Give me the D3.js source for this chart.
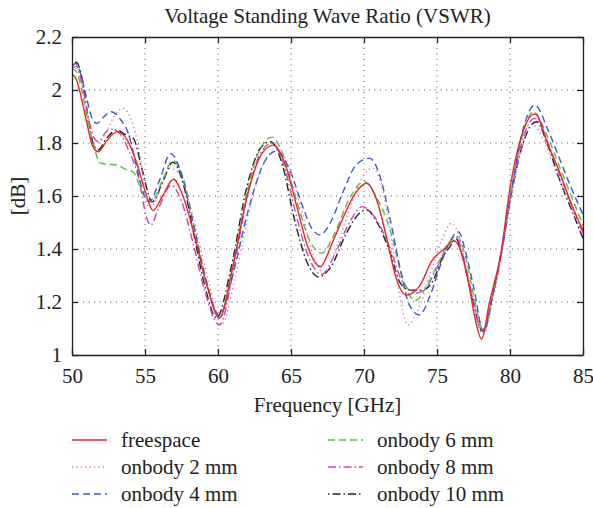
<!DOCTYPE html>
<html>
<head>
<meta charset="utf-8">
<script src="https://cdn.jsdelivr.net/npm/d3@7"></script>
<style>
  body { margin: 0; background: #fff; }
  svg { display: block; font-family: "Liberation Serif", "DejaVu Serif", serif; }
</style>
</head>
<body>
<div id="main-container"></div>
<script>
// Data: [frequency GHz, VSWR]
const FREESPACE = [[50, 2.06], [50.3, 2.04], [50.6, 1.98], [51.0, 1.88], [51.4, 1.79], [51.8, 1.767], [52.4, 1.81], [53.1, 1.843], [53.8, 1.81], [54.4, 1.73], [55.0, 1.62], [55.55, 1.545], [56.2, 1.60], [56.95, 1.663], [57.6, 1.60], [58.3, 1.47], [59.2, 1.27], [60.1, 1.14], [61.0, 1.33], [62.0, 1.60], [63.0, 1.76], [63.8, 1.792], [64.6, 1.72], [65.4, 1.56], [66.2, 1.40], [67.0, 1.333], [67.8, 1.42], [68.6, 1.522], [69.4, 1.61], [70.2, 1.648], [70.9, 1.58], [71.6, 1.43], [72.2, 1.29], [72.9, 1.226], [73.8, 1.26], [74.7, 1.36], [75.4, 1.396], [76.2, 1.43], [76.7, 1.38], [77.2, 1.26], [77.6, 1.14], [78.05, 1.06], [78.6, 1.20], [79.4, 1.39], [80.0, 1.63], [80.7, 1.81], [81.7, 1.91], [82.7, 1.78], [83.4, 1.69], [84.2, 1.57], [85, 1.47]];
const ONBODY_2 = [[50, 2.07], [50.3, 2.08], [50.7, 2.01], [51.1, 1.90], [51.5, 1.82], [51.8, 1.80], [52.4, 1.85], [53.0, 1.91], [53.5, 1.931], [54.1, 1.88], [54.66, 1.755], [55.1, 1.58], [55.3, 1.555], [56.0, 1.62], [56.7, 1.705], [57.4, 1.68], [58.3, 1.52], [59.3, 1.29], [60.25, 1.115], [61.2, 1.30], [62.2, 1.56], [63.2, 1.73], [64.0, 1.78], [64.8, 1.72], [65.7, 1.55], [66.5, 1.38], [67.3, 1.31], [68.2, 1.42], [69.2, 1.58], [70.0, 1.68], [70.6, 1.705], [71.2, 1.64], [71.8, 1.47], [72.4, 1.24], [73.0, 1.113], [73.7, 1.17], [74.5, 1.30], [75.3, 1.43], [76.0, 1.497], [76.5, 1.45], [77.1, 1.30], [77.6, 1.15], [78.2, 1.08], [78.8, 1.20], [79.4, 1.37], [80.1, 1.60], [80.8, 1.78], [81.5, 1.87], [82.4, 1.80], [83.3, 1.67], [84.2, 1.56], [85, 1.45]];
const ONBODY_4 = [[50, 2.09], [50.25, 2.10], [50.6, 2.06], [51.0, 1.97], [51.4, 1.89], [51.7, 1.874], [52.2, 1.90], [52.7, 1.918], [53.3, 1.89], [53.9, 1.83], [54.4, 1.717], [54.9, 1.61], [55.3, 1.578], [56.0, 1.66], [56.75, 1.76], [57.4, 1.70], [58.2, 1.52], [59.1, 1.30], [60.1, 1.15], [61.0, 1.30], [62.0, 1.53], [63.1, 1.72], [64.0, 1.77], [64.9, 1.70], [65.8, 1.56], [66.4, 1.48], [67.0, 1.453], [67.7, 1.50], [68.6, 1.62], [69.5, 1.72], [70.4, 1.742], [71.0, 1.69], [71.8, 1.51], [72.5, 1.32], [73.1, 1.19], [73.8, 1.151], [74.5, 1.22], [75.2, 1.333], [75.9, 1.43], [76.46, 1.465], [77.0, 1.38], [77.5, 1.258], [78.2, 1.088], [78.8, 1.22], [79.4, 1.39], [80.1, 1.62], [80.8, 1.83], [81.7, 1.943], [82.6, 1.85], [83.4, 1.74], [84.2, 1.63], [85, 1.53]];
const ONBODY_6 = [[50, 2.08], [50.3, 2.07], [50.7, 1.99], [51.1, 1.88], [51.46, 1.80], [51.9, 1.725], [52.4, 1.72], [53.06, 1.717], [53.7, 1.70], [54.2, 1.69], [54.9, 1.604], [55.45, 1.578], [56.2, 1.66], [56.9, 1.735], [57.6, 1.67], [58.4, 1.48], [59.2, 1.28], [60.1, 1.14], [61.0, 1.33], [62.0, 1.62], [63.0, 1.79], [63.7, 1.822], [64.5, 1.75], [65.4, 1.58], [66.3, 1.43], [67.1, 1.384], [68.0, 1.46], [69.0, 1.59], [70.0, 1.654], [70.8, 1.60], [71.8, 1.47], [72.6, 1.30], [73.5, 1.205], [74.3, 1.26], [75.2, 1.36], [76.0, 1.435], [76.4, 1.445], [77.0, 1.36], [77.6, 1.20], [78.2, 1.088], [78.8, 1.22], [79.4, 1.39], [80.1, 1.63], [80.8, 1.82], [81.6, 1.918], [82.6, 1.82], [83.4, 1.71], [84.2, 1.60], [85, 1.49]];
const ONBODY_8 = [[50, 2.08], [50.3, 2.09], [50.7, 2.02], [51.1, 1.90], [51.5, 1.82], [51.8, 1.805], [52.3, 1.84], [52.6, 1.852], [53.2, 1.84], [53.9, 1.77], [54.6, 1.66], [55.1, 1.52], [55.4, 1.49], [55.9, 1.55], [56.8, 1.64], [57.5, 1.58], [58.3, 1.42], [59.1, 1.24], [60.1, 1.113], [61.0, 1.30], [62.0, 1.60], [63.0, 1.77], [63.7, 1.80], [64.5, 1.72], [65.3, 1.54], [66.2, 1.37], [67.1, 1.305], [68.0, 1.38], [69.0, 1.50], [69.9, 1.56], [70.6, 1.53], [71.8, 1.40], [72.6, 1.28], [73.6, 1.233], [74.3, 1.26], [75.0, 1.33], [75.7, 1.41], [76.3, 1.45], [76.8, 1.37], [77.4, 1.23], [78.1, 1.09], [78.8, 1.22], [79.4, 1.38], [80.1, 1.61], [80.8, 1.80], [81.7, 1.893], [82.6, 1.80], [83.4, 1.68], [84.2, 1.57], [85, 1.46]];
const ONBODY_10 = [[50, 2.09], [50.3, 2.105], [50.7, 2.04], [51.1, 1.90], [51.5, 1.79], [51.8, 1.774], [52.4, 1.82], [53.06, 1.849], [53.7, 1.83], [54.2, 1.818], [54.8, 1.70], [55.5, 1.578], [56.2, 1.65], [56.9, 1.728], [57.6, 1.65], [58.4, 1.44], [59.1, 1.26], [59.9, 1.14], [60.9, 1.33], [62.0, 1.64], [62.9, 1.78], [63.6, 1.805], [64.4, 1.72], [65.2, 1.52], [66.1, 1.35], [66.9, 1.295], [67.7, 1.33], [68.8, 1.46], [69.6, 1.53], [70.2, 1.547], [70.9, 1.50], [71.8, 1.384], [72.5, 1.27], [73.15, 1.245], [74.0, 1.245], [74.75, 1.283], [75.4, 1.37], [75.9, 1.41], [76.3, 1.44], [76.8, 1.36], [77.4, 1.22], [78.1, 1.09], [78.8, 1.22], [79.4, 1.38], [80.1, 1.61], [80.9, 1.80], [81.8, 1.88], [82.6, 1.79], [83.4, 1.66], [84.2, 1.55], [85, 1.44]];

const SERIES_NAMES = ['freespace', 'onbody 2 mm', 'onbody 4 mm', 'onbody 6 mm', 'onbody 8 mm', 'onbody 10 mm'];
const SERIES_DATA = [FREESPACE, ONBODY_2, ONBODY_4, ONBODY_6, ONBODY_8, ONBODY_10];
const X_TICKS = [50, 55, 60, 65, 70, 75, 80, 85];
const Y_TICKS = [1, 1.2, 1.4, 1.6, 1.8, 2, 2.2];

const COLORS = ['#e8232b', '#d66bc6', '#3a5cc0', '#63ba45', '#c845b2', '#222222'];
const DASHES = [null, '1.2,3.2', '7,4', '7,4', '8,3,1.5,3', '1.5,3,8,3'];

const WIDTH = 593, HEIGHT = 508;
const PLOT = { left: 72, right: 583, top: 37, bottom: 355 };
const FONT_SIZE = 21;

const svg = d3.select('#main-container').append('svg')
    .attr('width', WIDTH)
    .attr('height', HEIGHT);
svg.append('rect').attr('width', WIDTH).attr('height', HEIGHT).attr('fill', '#fff');

const x = d3.scaleLinear().domain([50, 85]).range([PLOT.left, PLOT.right]);
const y = d3.scaleLinear().domain([1, 2.2]).range([PLOT.bottom, PLOT.top]);

// grid
const grid = svg.append('g').attr('stroke', '#555').attr('stroke-width', 1).attr('stroke-dasharray', '1,4.5');
grid.selectAll('.gx').data(X_TICKS.slice(1, -1)).enter().append('line')
    .attr('x1', d => x(d)).attr('x2', d => x(d))
    .attr('y1', PLOT.top).attr('y2', PLOT.bottom);
grid.selectAll('.gy').data(Y_TICKS.slice(1, -1)).enter().append('line')
    .attr('y1', d => y(d)).attr('y2', d => y(d))
    .attr('x1', PLOT.left).attr('x2', PLOT.right);

// curves
const line = d3.line()
    .x(d => x(d[0]))
    .y(d => y(d[1]))
    .curve(d3.curveMonotoneX);

svg.append('defs').append('clipPath').attr('id', 'clip')
    .append('rect').attr('x', PLOT.left).attr('y', PLOT.top)
    .attr('width', PLOT.right - PLOT.left).attr('height', PLOT.bottom - PLOT.top);

const drawOrder = [5, 4, 3, 2, 1, 0];
svg.append('g').attr('clip-path', 'url(#clip)')
    .selectAll('path').data(drawOrder).enter().append('path')
    .attr('d', i => line(SERIES_DATA[i]))
    .attr('fill', 'none')
    .attr('stroke', i => COLORS[i])
    .attr('stroke-width', 1.4)
    .attr('stroke-dasharray', i => DASHES[i]);

// axes (box with inward ticks on all sides)
const tickLen = 6;
svg.append('g').attr('transform', `translate(0,${PLOT.bottom})`)
    .call(d3.axisBottom(x).tickValues(X_TICKS).tickSizeInner(-tickLen).tickSizeOuter(0).tickPadding(13).tickFormat(d3.format('d')));
svg.append('g').attr('transform', `translate(0,${PLOT.top})`)
    .call(d3.axisTop(x).tickValues(X_TICKS).tickSizeInner(-tickLen).tickSizeOuter(0).tickFormat(''));
svg.append('g').attr('transform', `translate(${PLOT.left},0)`)
    .call(d3.axisLeft(y).tickValues(Y_TICKS).tickSizeInner(-tickLen).tickSizeOuter(0).tickPadding(10).tickFormat(d => d3.format('')(+d.toFixed(1))));
svg.append('g').attr('transform', `translate(${PLOT.right},0)`)
    .call(d3.axisRight(y).tickValues(Y_TICKS).tickSizeInner(-tickLen).tickSizeOuter(0).tickFormat(''));

svg.selectAll('.domain').attr('stroke', '#222').attr('stroke-width', 1.3);
svg.selectAll('.tick line').attr('stroke', '#222').attr('stroke-width', 1.3);
svg.selectAll('.tick text')
    .attr('font-family', '"Liberation Serif", "DejaVu Serif", serif')
    .attr('font-size', FONT_SIZE).attr('fill', '#222');

// titles
svg.append('text')
    .attr('x', (PLOT.left + PLOT.right) / 2).attr('y', 23)
    .attr('text-anchor', 'middle').attr('font-size', FONT_SIZE).attr('fill', '#222')
    .text('Voltage Standing Wave Ratio (VSWR)');
svg.append('text')
    .attr('x', (PLOT.left + PLOT.right) / 2).attr('y', 412)
    .attr('text-anchor', 'middle').attr('font-size', FONT_SIZE).attr('fill', '#222')
    .text('Frequency [GHz]');
svg.append('text')
    .attr('transform', `translate(25,${(PLOT.top + PLOT.bottom) / 2}) rotate(-90)`)
    .attr('text-anchor', 'middle').attr('font-size', FONT_SIZE).attr('fill', '#222')
    .text('[dB]');

// legend
const legend = svg.append('g');
const items = legend.selectAll('g').data(SERIES_NAMES).enter().append('g')
    .attr('transform', (d, i) => `translate(${i < 3 ? 72 : 328},${440 + (i % 3) * 27})`);
items.append('line')
    .attr('x1', 0).attr('x2', 35).attr('y1', 0).attr('y2', 0)
    .attr('stroke', (d, i) => COLORS[i])
    .attr('stroke-width', 1.4)
    .attr('stroke-dasharray', (d, i) => DASHES[i]);
items.append('text')
    .attr('x', 49).attr('y', 7)
    .attr('font-size', FONT_SIZE).attr('fill', '#222')
    .text(d => d);
</script>
</body>
</html>
